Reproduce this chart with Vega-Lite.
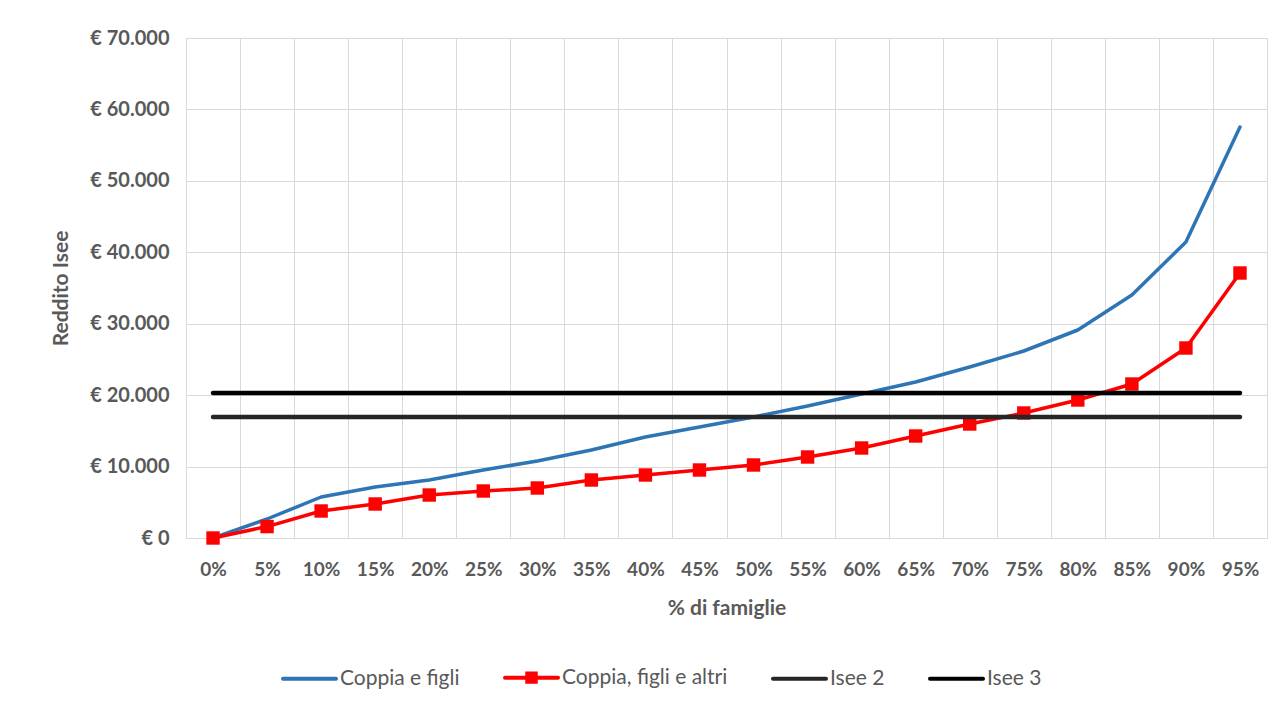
{
  "$schema": "https://vega.github.io/schema/vega-lite/v6.json",
  "width": 1081,
  "height": 500,
  "autosize": {"type": "none"},
  "padding": {"left": 186, "top": 38, "right": 13, "bottom": 172},
  "background": "#ffffff",
  "config": {
    "font": "Lato",
    "view": {"stroke": "#d9d9d9", "strokeWidth": 1}
  },
  "data": {
    "values": [
      {"p": "0%", "s": "Coppia e figli", "v": 0},
      {"p": "5%", "s": "Coppia e figli", "v": 2660},
      {"p": "10%", "s": "Coppia e figli", "v": 5740},
      {"p": "15%", "s": "Coppia e figli", "v": 7140},
      {"p": "20%", "s": "Coppia e figli", "v": 8120},
      {"p": "25%", "s": "Coppia e figli", "v": 9520},
      {"p": "30%", "s": "Coppia e figli", "v": 10780},
      {"p": "35%", "s": "Coppia e figli", "v": 12320},
      {"p": "40%", "s": "Coppia e figli", "v": 14140},
      {"p": "45%", "s": "Coppia e figli", "v": 15540},
      {"p": "50%", "s": "Coppia e figli", "v": 16940},
      {"p": "55%", "s": "Coppia e figli", "v": 18480},
      {"p": "60%", "s": "Coppia e figli", "v": 20160},
      {"p": "65%", "s": "Coppia e figli", "v": 21840},
      {"p": "70%", "s": "Coppia e figli", "v": 23940},
      {"p": "75%", "s": "Coppia e figli", "v": 26180},
      {"p": "80%", "s": "Coppia e figli", "v": 29120},
      {"p": "85%", "s": "Coppia e figli", "v": 34020},
      {"p": "90%", "s": "Coppia e figli", "v": 41440},
      {"p": "95%", "s": "Coppia e figli", "v": 57540},
      {"p": "0%", "s": "Coppia, figli e altri", "v": 0},
      {"p": "5%", "s": "Coppia, figli e altri", "v": 1600},
      {"p": "10%", "s": "Coppia, figli e altri", "v": 3780},
      {"p": "15%", "s": "Coppia, figli e altri", "v": 4760},
      {"p": "20%", "s": "Coppia, figli e altri", "v": 6020},
      {"p": "25%", "s": "Coppia, figli e altri", "v": 6580},
      {"p": "30%", "s": "Coppia, figli e altri", "v": 7000},
      {"p": "35%", "s": "Coppia, figli e altri", "v": 8120},
      {"p": "40%", "s": "Coppia, figli e altri", "v": 8820},
      {"p": "45%", "s": "Coppia, figli e altri", "v": 9520},
      {"p": "50%", "s": "Coppia, figli e altri", "v": 10220},
      {"p": "55%", "s": "Coppia, figli e altri", "v": 11340},
      {"p": "60%", "s": "Coppia, figli e altri", "v": 12600},
      {"p": "65%", "s": "Coppia, figli e altri", "v": 14280},
      {"p": "70%", "s": "Coppia, figli e altri", "v": 15960},
      {"p": "75%", "s": "Coppia, figli e altri", "v": 17500},
      {"p": "80%", "s": "Coppia, figli e altri", "v": 19320},
      {"p": "85%", "s": "Coppia, figli e altri", "v": 21560},
      {"p": "90%", "s": "Coppia, figli e altri", "v": 26600},
      {"p": "95%", "s": "Coppia, figli e altri", "v": 37100},
      {"p": "0%", "s": "Isee 2", "v": 16950},
      {"p": "95%", "s": "Isee 2", "v": 16950},
      {"p": "0%", "s": "Isee 3", "v": 20300},
      {"p": "95%", "s": "Isee 3", "v": 20300}
    ]
  },
  "encoding": {
    "x": {
      "field": "p",
      "type": "ordinal",
      "sort": ["0%", "5%", "10%", "15%", "20%", "25%", "30%", "35%", "40%", "45%", "50%", "55%", "60%", "65%", "70%", "75%", "80%", "85%", "90%", "95%"],
      "scale": {"type": "band", "paddingInner": 0, "paddingOuter": 0},
      "axis": {
        "title": "% di famiglie",
        "tickBand": "extent",
        "ticks": false,
        "grid": true,
        "gridColor": "#d9d9d9",
        "gridWidth": 1,
        "domainColor": "#d9d9d9",
        "domainWidth": 1,
        "labelAngle": 0,
        "labelFont": "Lato",
        "labelFontSize": 19,
        "labelFontWeight": "bold",
        "labelColor": "#595959",
        "labelPadding": 22,
        "titleFont": "Lato",
        "titleFontSize": 21,
        "titleFontWeight": "bold",
        "titleColor": "#595959",
        "titlePadding": 18
      }
    },
    "y": {
      "field": "v",
      "type": "quantitative",
      "scale": {"domain": [0, 70000], "nice": false},
      "axis": {
        "title": "Reddito Isee",
        "values": [0, 10000, 20000, 30000, 40000, 50000, 60000, 70000],
        "labelExpr": "'€ ' + replace(format(datum.value, ','), regexp(',', 'g'), '.')",
        "ticks": false,
        "domain": false,
        "grid": true,
        "gridColor": "#d9d9d9",
        "gridWidth": 1,
        "labelFont": "Lato",
        "labelFontSize": 20,
        "labelFontWeight": "bold",
        "labelColor": "#595959",
        "labelPadding": 17,
        "titleFont": "Lato",
        "titleFontSize": 21,
        "titleFontWeight": "bold",
        "titleColor": "#595959",
        "titlePadding": 18
      }
    },
    "color": {
      "field": "s",
      "type": "nominal",
      "scale": {
        "domain": ["Coppia e figli", "Coppia, figli e altri", "Isee 2", "Isee 3"],
        "range": ["#2e75b6", "#ff0000", "#262626", "#000000"]
      },
      "legend": {
        "title": null,
        "orient": "none",
        "legendX": 95,
        "legendY": 611,
        "direction": "horizontal",
        "padding": 0,
        "symbolType": "stroke",
        "symbolSize": 2809,
        "symbolStrokeWidth": 4,
        "labelFont": "Lato",
        "labelFontSize": 21,
        "labelColor": "#595959",
        "labelLimit": 0,
        "labelOffset": 2,
        "columnPadding": 37,
        "encode": {
          "symbols": {
            "update": {
              "shape": {"signal": "datum.value === 'Coppia, figli e altri' ? 'M-1,0H1M-0.16,-0.16H0.16V0.16H-0.16Z' : 'stroke'"},
              "fill": {"signal": "datum.value === 'Coppia, figli e altri' ? '#ff0000' : 'transparent'"},
              "strokeCap": {"value": "round"}
            }
          }
        }
      }
    }
  },
  "layer": [
    {
      "transform": [{"filter": "datum.s === 'Coppia e figli' || datum.s === 'Coppia, figli e altri'"}],
      "mark": {"type": "line", "strokeWidth": 3.5, "strokeCap": "round", "strokeJoin": "round"}
    },
    {
      "transform": [{"filter": "datum.s === 'Coppia, figli e altri'"}],
      "mark": {"type": "point", "shape": "square", "filled": true, "size": 180, "opacity": 1},
      "encoding": {"color": {"value": "#ff0000"}}
    },
    {
      "transform": [{"filter": "datum.s === 'Isee 2' || datum.s === 'Isee 3'"}],
      "mark": {"type": "line", "strokeWidth": 4.5, "strokeCap": "round", "strokeJoin": "round"}
    }
  ]
}
